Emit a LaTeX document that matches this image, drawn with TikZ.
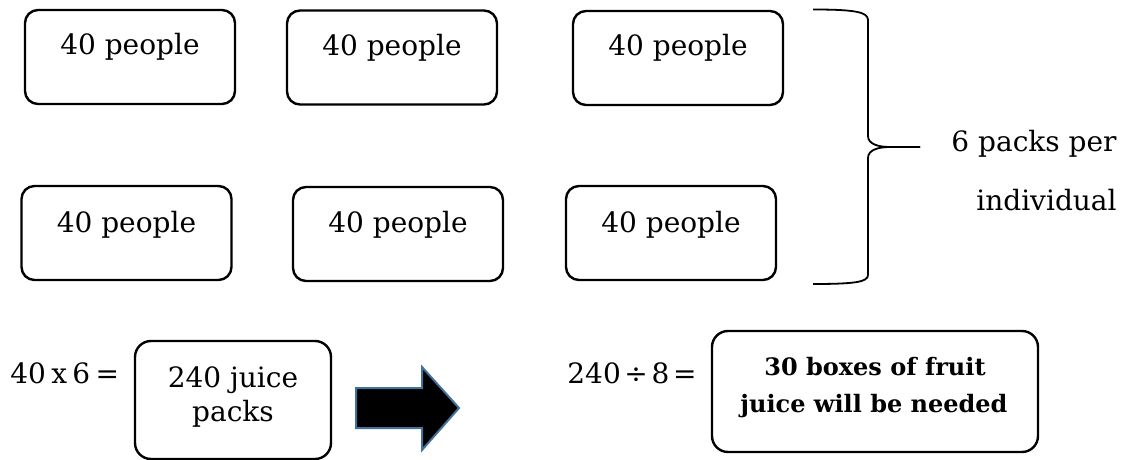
\documentclass[tikz,border=0pt]{standalone}
\usepackage{fontspec}
\setmainfont{DejaVu Serif}
\definecolor{arrowblue}{RGB}{65,113,156}
\newcommand{\gap}[1]{\hspace{#1em}}
\begin{document}
\begin{tikzpicture}[x=0.5pt,y=-0.5pt,
  pbox/.style={draw, line width=1.2pt, rounded corners=6.5pt, minimum width=105pt, minimum height=47pt, inner sep=0pt},
  rbox/.style={draw, line width=1.2pt, rounded corners=8pt, inner sep=0pt},
  txt/.style={font=\fontsize{14pt}{16pt}\selectfont, inner sep=0pt, anchor=base},
  btxt/.style={font=\fontsize{12pt}{14pt}\selectfont\bfseries, inner sep=0pt, anchor=base},
  bracel/.style={line width=0.9pt},
  arrowc/.style={fill=black, draw=arrowblue, line width=1pt}]
\useasboundingbox (0,0) rectangle (1130,460);

% groups of people
\node[pbox] (p1) at (130,57) {};
\node[pbox] (p2) at (392,57.5) {};
\node[pbox] (p3) at (678,58) {};
\node[pbox] (p4) at (126.5,233) {};
\node[pbox] (p5) at (398,234) {};
\node[pbox] (p6) at (671,233) {};
\node[txt] (t1) at (130,55) {40 people};
\node[txt] (t2) at (392,56) {40 people};
\node[txt] (t3) at (678,56) {40 people};
\node[txt] (t4) at (126.5,232) {40 people};
\node[txt] (t5) at (398,232) {40 people};
\node[txt] (t6) at (671,232) {40 people};

% curly brace
\coordinate (btop) at (813,9.5);
\coordinate (btip) at (920,147);
\coordinate (bbot) at (813,284);
\draw[bracel] (btop) .. controls (855,9.5) and (868,12) .. (868,20)
  -- (868,136) .. controls (868,144) and (878,147) .. (890,147) -- (btip);
\draw[bracel] (btip) -- (890,147) .. controls (878,147) and (868,150) .. (868,158)
  -- (868,275) .. controls (868,282) and (855,284) .. (bbot);
\node[txt, anchor=base east] (q1) at (1117,152) {6 packs per};
\node[txt, anchor=base east] (q2) at (1117,210) {individual};

% first calculation
\node[txt, anchor=base west] (e1) at (10,383) {40\gap{0.19}x\gap{0.19}6\gap{0.19}=};
\node[rbox, minimum width=98pt, minimum height=59pt] (jb) at (233,400) {};
\node[txt] (j1) at (233,387) {240 juice};
\node[txt] (j2) at (233,421) {packs};

% block arrow
\draw[arrowc] (356,388) -- (422,388) -- (422,367) -- (459,408) -- (422,450) -- (422,428) -- (356,428) -- cycle;

% second calculation
\node[txt, anchor=base west] (e2) at (567,383) {240\gap{0.13}÷\gap{0.13}8\gap{0.13}=};
\node[rbox, minimum width=163pt, minimum height=60.5pt] (res) at (875,391.5) {};
\node[btxt] (r1) at (875,375) {30 boxes of fruit};
\node[btxt] (r2) at (874,412) {juice will be needed};
\end{tikzpicture}
\end{document}
